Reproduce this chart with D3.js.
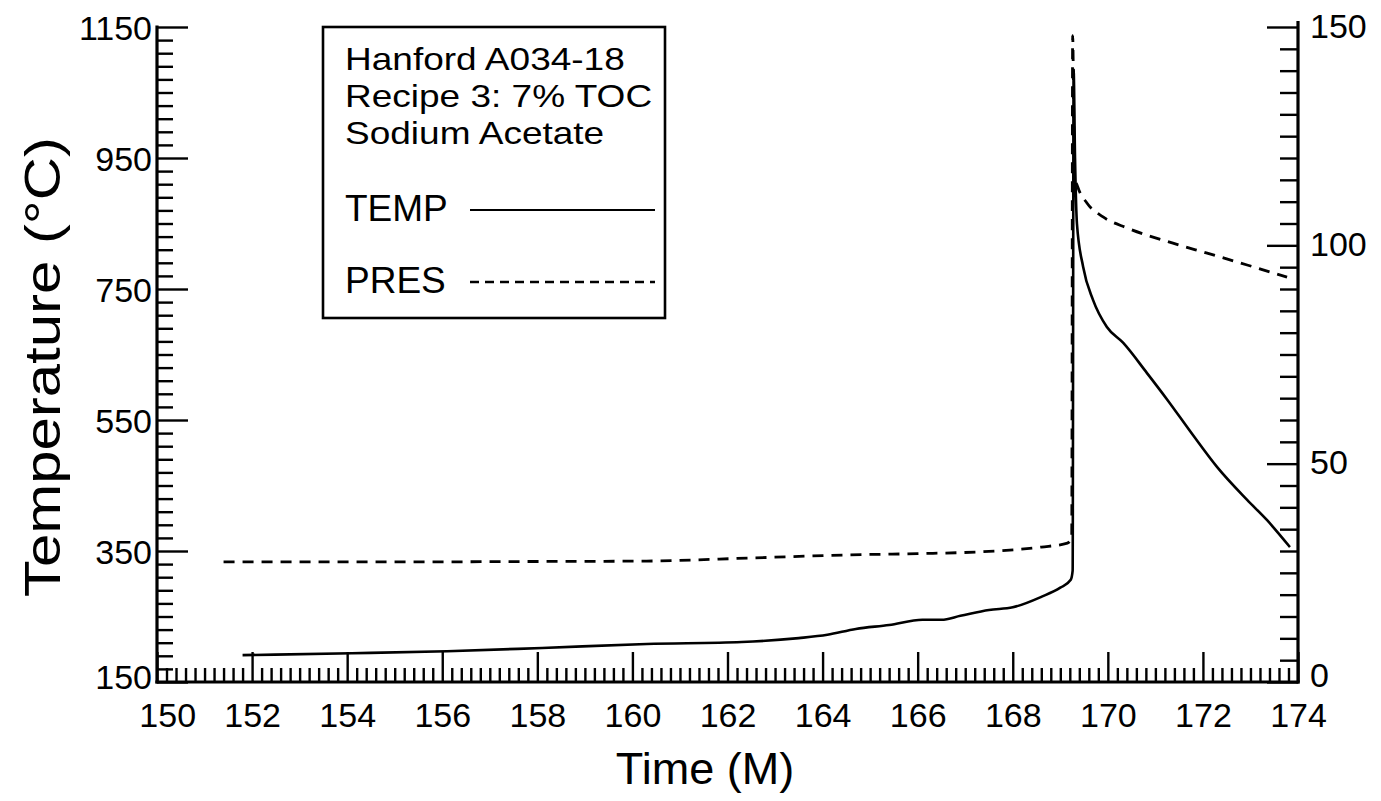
<!DOCTYPE html>
<html>
<head>
<meta charset="utf-8">
<script src="https://cdn.jsdelivr.net/npm/d3@7/dist/d3.min.js"></script>
<style>
  html, body { margin: 0; padding: 0; background: #fff; }
  svg { display: block; }
  text { font-family: "Liberation Sans", Arial, Helvetica, sans-serif; fill: #000; }
</style>
</head>
<body>
<svg id="chart" width="1381" height="801"></svg>
<script>
// ---- data ----
const tempTime = [151.8, 154.1, 156.1, 158.1, 160.3, 162.3, 163.5, 164.1, 164.7, 165.4, 166.1, 166.5, 166.9, 167.5, 168.0, 168.6, 169.0, 169.22, 169.26, 169.28, 169.31, 169.35, 169.48, 169.69, 169.98, 170.32, 170.82, 171.25, 171.79, 172.30, 172.93, 173.35, 173.83];
const tempVals = [191, 194, 197, 202, 208, 211, 217, 222, 231, 237, 245, 245, 251, 260, 264, 280, 294, 306, 320, 1085, 950, 850, 784, 733, 692, 668, 622, 581, 527, 478, 428, 397, 356];

const presTime = [151.4, 155.0, 158.0, 160.3, 162.5, 164.5, 166.0, 167.3, 168.6, 169.15, 169.24, 169.26, 169.3, 169.37, 169.56, 169.90, 170.40, 171.37, 172.09, 172.93, 173.77];
const presVals = [27.5, 27.5, 27.6, 27.7, 28.4, 29.1, 29.4, 29.8, 30.9, 31.8, 33, 148, 116, 113.3, 109.7, 106.5, 104.0, 100.5, 98.2, 95.5, 92.7];

const xMajorTicks = [150, 152, 154, 156, 158, 160, 162, 164, 166, 168, 170, 172, 174];
const tempMajorTicks = [150, 350, 550, 750, 950, 1150];
const presMajorTicks = [0, 50, 100, 150];

const legendLines = ["Hanford A034-18", "Recipe 3: 7% TOC", "Sodium Acetate"];
const seriesNames = ["TEMP", "PRES"];

// ---- layout ----
const L = 157, R = 1298, T = 27, B = 682;
const svg = d3.select("#chart");

const x = d3.scaleLinear().domain([150, 174]).range([L, R]);
const yT = d3.scaleLinear().domain([150, 1150]).range([B, T]);
const yP = d3.scaleLinear().domain([0, 150]).range([B, T]);

const xMinor = d3.range(0, 121).map(i => 150 + i * 0.2).filter(v => !xMajorTicks.some(m => Math.abs(m - v) < 1e-6));
const tMinor = d3.range(0, 51).map(i => 150 + i * 20).filter(v => !tempMajorTicks.includes(v));
const pMinor = d3.range(0, 31).map(i => i * 5).filter(v => !presMajorTicks.includes(v));

function styleAxis(g) {
  g.selectAll("path.domain").attr("stroke", "#000").attr("stroke-width", 3.2);
  g.selectAll(".tick line").attr("stroke", "#000").attr("stroke-width", 2.4);
  g.selectAll(".tick text").style("font-size", "34px").style("font-family", '"Liberation Sans", Arial, sans-serif');
}

// bottom axis
const gxMinor = svg.append("g").attr("transform", `translate(0,${B})`)
  .call(d3.axisBottom(x).tickValues(xMinor).tickSizeInner(-14).tickSizeOuter(0).tickFormat(""));
styleAxis(gxMinor);
gxMinor.select("path.domain").remove();
const gx = svg.append("g").attr("transform", `translate(0,${B})`)
  .call(d3.axisBottom(x).tickValues(xMajorTicks).tickSizeInner(-30).tickSizeOuter(0).tickPadding(21).tickFormat(d3.format("d")));
styleAxis(gx);
gx.selectAll(".tick text").attr("dy", "0.71em");
gx.selectAll(".tick").filter(d => d === 150).select("text").attr("dx", "0.3em");

// left axis
const gyMinor = svg.append("g").attr("transform", `translate(${L},0)`)
  .call(d3.axisLeft(yT).tickValues(tMinor).tickSizeInner(-16).tickSizeOuter(0).tickFormat(""));
styleAxis(gyMinor);
gyMinor.select("path.domain").remove();
const gy = svg.append("g").attr("transform", `translate(${L},0)`)
  .call(d3.axisLeft(yT).tickValues(tempMajorTicks).tickSizeInner(-31).tickSizeOuter(0).tickPadding(5).tickFormat(d3.format("d")));
styleAxis(gy);
gy.selectAll(".tick text").attr("dy", "0.38em");
gy.selectAll(".tick").filter(d => d === 150).select("text").attr("dy", "0.2em");

// right axis
const gpMinor = svg.append("g").attr("transform", `translate(${R},0)`)
  .call(d3.axisRight(yP).tickValues(pMinor).tickSizeInner(-18).tickSizeOuter(0).tickFormat(""));
styleAxis(gpMinor);
gpMinor.select("path.domain").remove();
const gp = svg.append("g").attr("transform", `translate(${R},0)`)
  .call(d3.axisRight(yP).tickValues(presMajorTicks).tickSizeInner(-31).tickSizeOuter(0).tickPadding(12).tickFormat(d3.format("d")));
styleAxis(gp);
gp.selectAll(".tick text").attr("dy", "0.3em");
gp.selectAll(".tick").filter(d => d === 0).select("text").attr("dy", "0.12em");
// extend domains slightly to cover the corners
gp.select("path.domain").attr("d", `M0,${T - 6}V${B + 1.6}`);
gy.select("path.domain").attr("d", `M0,${T - 1.6}V${B + 1.6}`);
gx.select("path.domain").attr("d", `M${L - 1.6},0H${R + 1.6}`);

// curves
const tempData = tempTime.map((t, i) => [t, tempVals[i]]);
const presData = presTime.map((t, i) => [t, presVals[i]]);

svg.append("path")
  .datum(presData)
  .attr("fill", "none").attr("stroke", "#000").attr("stroke-width", 2.8)
  .attr("stroke-dasharray", "11,8")
  .attr("d", d3.line().x(d => x(d[0])).y(d => yP(d[1])).curve(d3.curveMonotoneX));

svg.append("path")
  .datum(tempData)
  .attr("fill", "none").attr("stroke", "#000").attr("stroke-width", 2.6)
  .attr("d", d3.line().x(d => x(d[0])).y(d => yT(d[1])).curve(d3.curveMonotoneX));

// legend box
const lg = svg.append("g");
lg.append("rect").attr("x", 323).attr("y", 27).attr("width", 342).attr("height", 291)
  .attr("fill", "#fff").attr("stroke", "#000").attr("stroke-width", 2.6);
legendLines.forEach((s, i) => {
  const t = lg.append("text").attr("x", 345).attr("y", 70 + i * 37).style("font-size", "37px").text(s);
  const w = t.node().getComputedTextLength();
  t.style("font-size", "32px").attr("textLength", w).attr("lengthAdjust", "spacingAndGlyphs");
});
lg.append("text").attr("x", 345).attr("y", 221).style("font-size", "37px").text(seriesNames[0]);
lg.append("text").attr("x", 345).attr("y", 293).style("font-size", "37px").text(seriesNames[1]);
lg.append("line").attr("x1", 470).attr("x2", 655).attr("y1", 210).attr("y2", 210)
  .attr("stroke", "#000").attr("stroke-width", 2.2);
lg.append("line").attr("x1", 470).attr("x2", 655).attr("y1", 282).attr("y2", 282)
  .attr("stroke", "#000").attr("stroke-width", 2.6).attr("stroke-dasharray", "9,6");

// axis titles
svg.append("text").attr("x", 705).attr("y", 784).attr("text-anchor", "middle")
  .style("font-size", "45px").text("Time (M)");
svg.append("text")
  .attr("transform", "translate(60,367) rotate(-90)")
  .attr("text-anchor", "middle")
  .style("font-size", "50px")
  .attr("textLength", 460).attr("lengthAdjust", "spacingAndGlyphs")
  .text("Temperature (°C)");
</script>
</body>
</html>
